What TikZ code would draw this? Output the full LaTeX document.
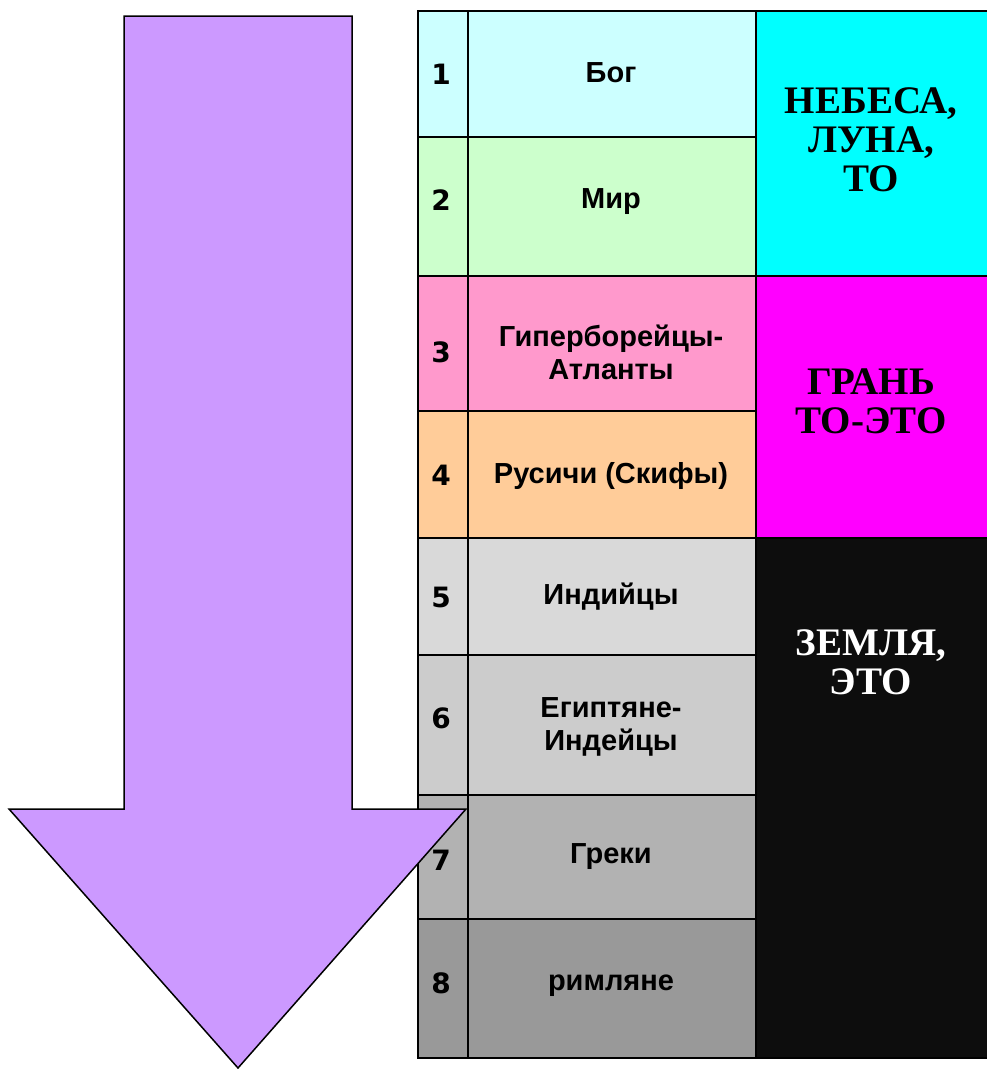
\documentclass[tikz,border=0pt]{standalone}
\usepackage{fontspec}
\setmainfont{Liberation Serif}
\setsansfont{Liberation Sans}
\newfontfamily\numfont{DejaVu Sans}
\definecolor{arrowc}{HTML}{CC99FF}
\definecolor{r1}{HTML}{CCFFFF}
\definecolor{r2}{HTML}{CCFFCC}
\definecolor{r3}{HTML}{FF99CC}
\definecolor{r4}{HTML}{FFCC99}
\definecolor{r5}{HTML}{D9D9D9}
\definecolor{r6}{HTML}{CCCCCC}
\definecolor{r7}{HTML}{B2B2B2}
\definecolor{r8}{HTML}{999999}
\definecolor{skyc}{HTML}{00FFFF}
\definecolor{edgec}{HTML}{FF00FF}
\definecolor{earthc}{HTML}{0D0D0D}
\begin{document}
\begin{tikzpicture}[x=1pt,y=-1pt,
  cell/.style={draw=black, line width=2pt, inner sep=0pt, anchor=north west},
  numtxt/.style={font=\numfont\bfseries\fontsize{28}{33}\selectfont, inner sep=0pt, text height=20pt, text depth=0pt},
  midtxt/.style={font=\sffamily\bfseries\fontsize{29}{33}\selectfont, inner sep=0pt, align=center, text height=21pt, text depth=0pt},
  bigtxt/.style={font=\rmfamily\bfseries\fontsize{39}{39}\selectfont, inner sep=0pt, align=center, text height=26pt, text depth=0pt}
]
\useasboundingbox (0,0) rectangle (987,1069);
% number column
\foreach \i/\ya/\yb in {1/10/136,2/136/275,3/275/410,4/410/537,5/537/654,6/654/794,7/794/918,8/918/1057}{
  \pgfmathsetmacro{\h}{\yb-\ya}
  \node[cell, fill=r\i, minimum width=50pt, minimum height=\h pt] (n\i) at (417,\ya) {};
  \node[cell, fill=r\i, minimum width=288pt, minimum height=\h pt] (m\i) at (467,\ya) {};
}
\node[cell, fill=skyc, minimum width=240pt, minimum height=265pt] (sky) at (755,10) {};
\node[cell, fill=edgec, minimum width=240pt, minimum height=262pt] (edge) at (755,275) {};
\node[cell, fill=earthc, minimum width=240pt, minimum height=520pt] (earth) at (755,537) {};
% numbers
\node[numtxt] (t1) at (441,74) {1};
\node[numtxt] (t2) at (441,200) {2};
\node[numtxt] (t3) at (441,352) {3};
\node[numtxt] (t4) at (441,475) {4};
\node[numtxt] (t5) at (441,597) {5};
\node[numtxt] (t6) at (441,718) {6};
\node[numtxt] (t7) at (441,860) {7};
\node[numtxt] (t8) at (441,983) {8};
% middle texts
\node[midtxt] (b1) at (611,72) {Бог};
\node[midtxt] (b2) at (611,198) {Мир};
\node[midtxt] (b3) at (611,369) {Гиперборейцы-\\Атланты};
\node[midtxt] (b4) at (611,473) {Русичи (Скифы)};
\node[midtxt] (b5) at (611,594) {Индийцы};
\node[midtxt] (b6) at (611,740) {Египтяне-\\Индейцы};
\node[midtxt] (b7) at (611,853) {Греки};
\node[midtxt] (b8) at (611,980) {римляне};
% right texts
\node[bigtxt] (s1) at (871,178) {НЕБЕСА,\\ЛУНА,\\ТО};
\node[bigtxt] (s2) at (871,420) {ГРАНЬ\\ТО-ЭТО};
\node[bigtxt, text=white] (s3) at (871,681) {ЗЕМЛЯ,\\ЭТО};
% arrow
\draw[fill=arrowc, draw=black, line width=1.5pt, line join=miter]
  (124,16) -- (352,16) -- (352,809) -- (466,809) -- (238,1068) -- (9,809) -- (124,809) -- cycle;
\end{tikzpicture}
\end{document}
